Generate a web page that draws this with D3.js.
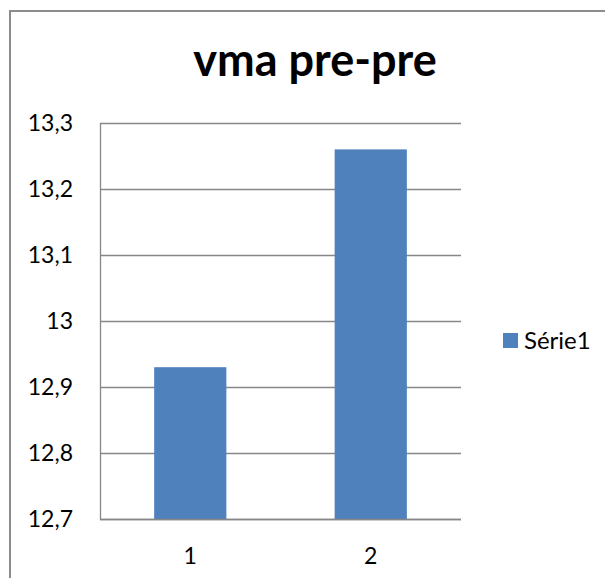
<!DOCTYPE html>
<html>
<head>
<meta charset="utf-8">
<script src="https://cdn.jsdelivr.net/npm/d3@7"></script>
<style>
  html, body { margin: 0; padding: 0; background: #fff; }
  svg { display: block; }
  text { font-family: Lato, "Open Sans", sans-serif; fill: #000; }
</style>
</head>
<body>
<svg id="chart" width="605" height="578"></svg>
<script>
const chartTitle = "vma pre-pre";
const categories = ["1", "2"];
const seriesName = "Série1";
const seriesValues = [12.93, 13.26];
const yTicks = [12.7, 12.8, 12.9, 13.0, 13.1, 13.2, 13.3];
const yTickLabels = ["12,7", "12,8", "12,9", "13", "13,1", "13,2", "13,3"];

const svg = d3.select("#chart");
const plot = { left: 100, right: 461, top: 123, bottom: 519 };
const gridColor = "#878787";
const barColor = "#4F81BD";

// chart frame (cropped on right and bottom)
svg.append("rect")
  .attr("x", 10).attr("y", 11)
  .attr("width", 700).attr("height", 700)
  .attr("fill", "none").attr("stroke", "#8c8c8c").attr("stroke-width", 2);

const x = d3.scaleBand().domain(categories).range([plot.left, plot.right]).paddingInner(0.6).paddingOuter(0.3);
const y = d3.scaleLinear().domain([12.7, 13.3]).range([plot.bottom, plot.top]);

// gridlines
svg.append("g").selectAll("line").data(yTicks).join("line")
  .attr("x1", plot.left).attr("x2", plot.right)
  .attr("y1", d => Math.round(y(d)) + 0.5).attr("y2", d => Math.round(y(d)) + 0.5)
  .attr("stroke", gridColor).attr("stroke-width", 1.3);

// bars
svg.append("g").selectAll("rect").data(seriesValues).join("rect")
  .attr("x", (d, i) => x(categories[i]))
  .attr("width", x.bandwidth())
  .attr("y", d => y(d))
  .attr("height", d => y(12.7) - y(d))
  .attr("fill", barColor);

// y axis line
svg.append("line")
  .attr("x1", plot.left + 0.5).attr("x2", plot.left + 0.5)
  .attr("y1", plot.top).attr("y2", plot.bottom + 1)
  .attr("stroke", gridColor).attr("stroke-width", 1.3);
// x axis line
svg.append("line")
  .attr("x1", plot.left).attr("x2", plot.right)
  .attr("y1", plot.bottom + 0.5).attr("y2", plot.bottom + 0.5)
  .attr("stroke", gridColor).attr("stroke-width", 1.3);

// y tick labels
svg.append("g").selectAll("text").data(yTicks).join("text")
  .attr("x", 73).attr("y", d => y(d) + 8)
  .attr("text-anchor", "end")
  .attr("font-size", 23)
  .text((d, i) => yTickLabels[i]);

// x tick labels
svg.append("g").selectAll("text").data(categories).join("text")
  .attr("x", d => x(d) + x.bandwidth() / 2)
  .attr("y", 564)
  .attr("text-anchor", "middle")
  .attr("font-size", 23)
  .text(d => d);

// title
svg.append("text")
  .attr("x", 315).attr("y", 76)
  .attr("text-anchor", "middle")
  .attr("font-size", 45).attr("font-weight", "bold")
  .text(chartTitle);

// legend
svg.append("rect").attr("x", 503).attr("y", 333).attr("width", 15).attr("height", 15).attr("fill", barColor);
svg.append("text").attr("x", 524).attr("y", 349).attr("font-size", 24).text(seriesName);
</script>
</body>
</html>
